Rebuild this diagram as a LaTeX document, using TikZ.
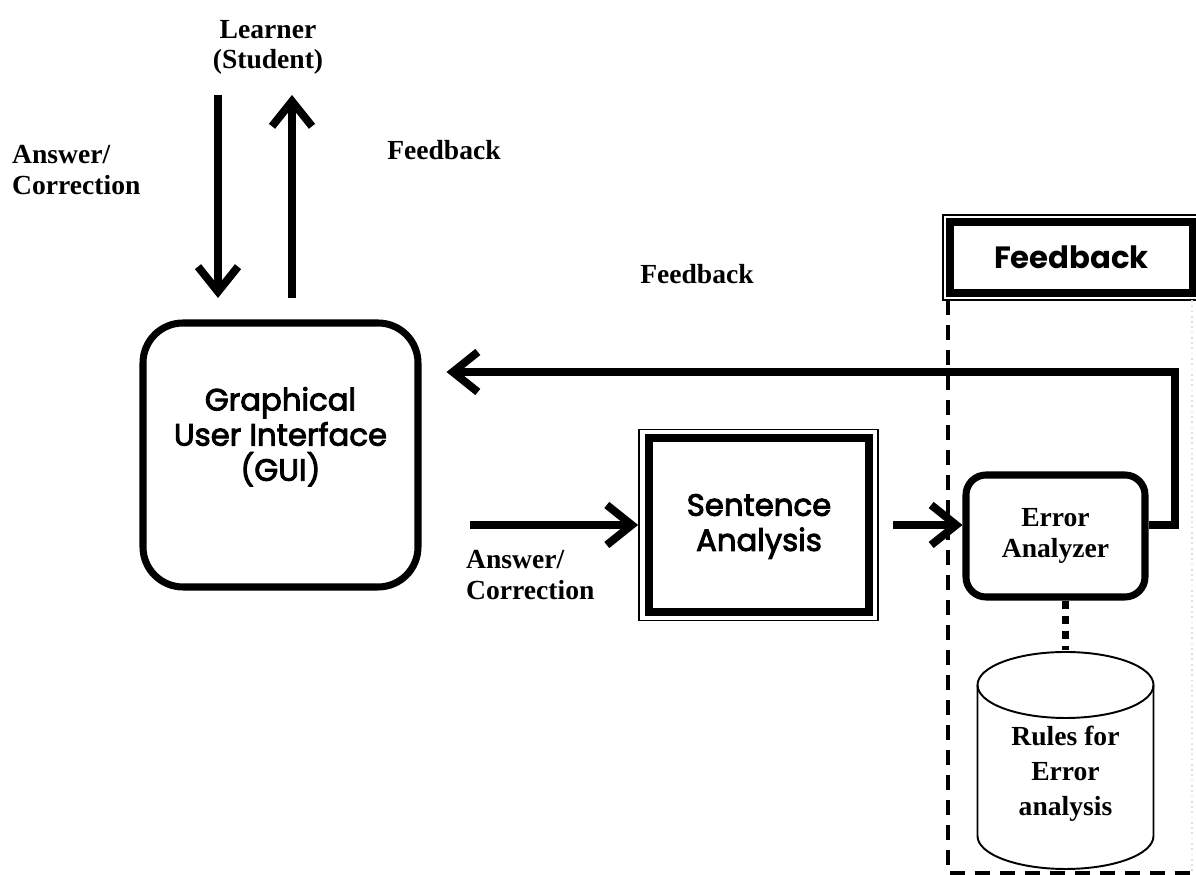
\documentclass[tikz,border=0pt]{standalone}
\usepackage{fontspec}
\setmainfont{Liberation Serif}
\setsansfont{Poppins}
\newfontfamily\gothique{Poppins}[FakeBold=3]
\usetikzlibrary{arrows.meta}

\tikzset{
  fleche/.style={line width=4.5pt, -{Straight Barb[length=0.5cm,width=0.8cm]}},
  etiquette/.style={font=\fontsize{15.7}{17.5}\selectfont\bfseries, align=center},
  boite/.style={draw, line width=4pt, align=center},
  cadre/.style={draw, line width=1pt},
  texte/.style={font=\gothique\fontsize{17.5}{20}\selectfont, align=center}
}

\begin{document}
\begin{tikzpicture}
\useasboundingbox (0,0) rectangle (23.92,17.5);

\node[etiquette] (learner) at (5.36,16.55) {Learner\\(Student)};
\node[etiquette, align=left, anchor=west] (ac1) at (0.12,14.1) {Answer/\\Correction};
\node[etiquette] (fb1) at (8.88,14.5) {Feedback};
\node[etiquette] (fb2) at (13.94,12.02) {Feedback};
\node[boite, texte, rounded corners=0.8cm, minimum width=5.5cm, minimum height=5.28cm] (gui) at (5.61,8.4) {Graphical\\User Interface\\(GUI)\\[4pt]};
\node[etiquette, align=left, anchor=west] (ac2) at (9.2,6.0) {Answer/\\Correction};
\node[cadre, minimum width=4.78cm, minimum height=3.82cm] (saout) at (15.17,7.0) {};
\node[boite, texte, minimum width=4.4cm, minimum height=3.48cm, text depth=0.1cm] (sa) at (15.18,7.0) {Sentence\\Analysis};
\node[boite, etiquette, rounded corners=0.4cm, minimum width=3.58cm, minimum height=2.44cm] (ea) at (21.11,6.78) {Error\\Analyzer};
\node[cadre, minimum width=5.1cm, minimum height=1.7cm] (fbout) at (21.41,12.35) {};
\node[boite, minimum width=4.86cm, minimum height=1.42cm, font=\sffamily\bfseries\fontsize{17.5}{20}\selectfont] (fbhead) at (21.43,12.35) {Feedback};
\node[etiquette, font=\fontsize{15.7}{20}\selectfont\bfseries] (rules) at (21.31,2.02) {Rules for\\Error\\analysis};

\coordinate (ls) at (4.36,15.6);
\coordinate (lg) at (4.36,11.54);
\coordinate (gs) at (5.84,11.54);
\coordinate (gl) at (5.84,15.6);
\coordinate (ain) at (9.4,7.0);
\coordinate (aout) at (17.86,7.0);
\coordinate (coin) at (23.5,10.06);
\coordinate (cyl) at (21.31,4.5);

\draw[fleche] (ls) -- (lg);
\draw[fleche] (gs) -- (gl);
\draw[fleche] (ain) -- (ain -| saout.west);
\draw[fleche] (aout) -- (aout -| ea.west);
\draw[fleche, shorten >=0.5cm] (ea.east |- aout) -| (coin) -- (coin -| gui.east);

\draw[line width=2.3pt, dash pattern=on 0.3cm off 0.2cm] (18.96,11.5) -- (18.96,0.04) -- (23.84,0.04);
\draw[gray!25, line width=1pt, dotted] (23.84,11.5) -- (23.84,0.04);

\draw[line width=1.1pt] (19.55,3.8) -- (19.55,0.78) arc[start angle=180, end angle=360, x radius=1.76, y radius=0.66] -- (23.07,3.8);
\draw[line width=1.1pt] (cyl |- 0,3.8) ellipse[x radius=1.76, y radius=0.66];
\draw[line width=4.5pt, dash pattern=on 0.16cm off 0.14cm] (cyl |- ea.south) -- (cyl);

\end{tikzpicture}
\end{document}
